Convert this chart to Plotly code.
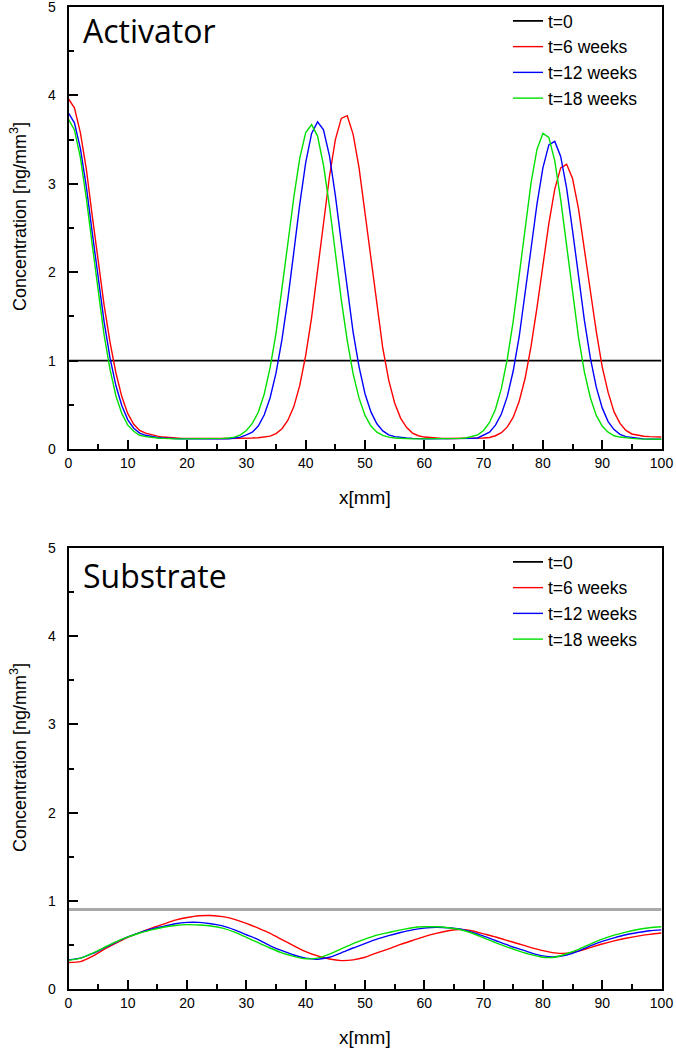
import plotly.graph_objects as go

# ---------------- data ----------------
SERIES_NAMES = ["t=0", "t=6 weeks", "t=12 weeks", "t=18 weeks"]
SERIES_COLORS = ["#000000", "#ff0000", "#0000ff", "#00e000"]

X_ACT = list(range(0, 101))
ACT_T0 = 1.0
ACT_T6 = [3.96, 3.86, 3.58, 3.17, 2.64, 2.12, 1.63, 1.21, 0.86, 0.59,
          0.40, 0.28, 0.21, 0.18, 0.16, 0.145, 0.135, 0.128, 0.123, 0.12,
          0.12, 0.118, 0.118, 0.118, 0.118, 0.118, 0.118, 0.118, 0.12, 0.12,
          0.122, 0.125, 0.128, 0.133, 0.145, 0.175, 0.23, 0.325, 0.48, 0.72,
          1.06, 1.49, 2.01, 2.56, 3.08, 3.50, 3.74, 3.77, 3.56, 3.18,
          2.67, 2.12, 1.59, 1.14, 0.78, 0.52, 0.35, 0.245, 0.18, 0.15,
          0.135, 0.128, 0.122, 0.12, 0.118, 0.118, 0.118, 0.118, 0.12, 0.122,
          0.125, 0.13, 0.15, 0.185, 0.25, 0.36, 0.54, 0.80, 1.16, 1.60,
          2.08, 2.55, 2.94, 3.18, 3.22, 3.06, 2.72, 2.28, 1.79, 1.33,
          0.93, 0.64, 0.42, 0.29, 0.21, 0.17, 0.155, 0.145, 0.14, 0.137,
          0.135]
ACT_T12 = [3.80, 3.69, 3.40, 2.97, 2.45, 1.93, 1.44, 1.03, 0.715, 0.49,
           0.33, 0.235, 0.18, 0.155, 0.14, 0.13, 0.125, 0.12, 0.118, 0.115,
           0.115, 0.115, 0.115, 0.115, 0.115, 0.115, 0.115, 0.115, 0.125, 0.135,
           0.16, 0.19, 0.26, 0.385, 0.58, 0.86, 1.24, 1.70, 2.23, 2.77,
           3.24, 3.57, 3.70, 3.61, 3.32, 2.87, 2.34, 1.81, 1.32, 0.93,
           0.625, 0.42, 0.285, 0.205, 0.16, 0.14, 0.13, 0.125, 0.12, 0.115,
           0.115, 0.115, 0.115, 0.115, 0.115, 0.115, 0.115, 0.115, 0.12, 0.125,
           0.155, 0.19, 0.27, 0.395, 0.595, 0.885, 1.27, 1.745, 2.265, 2.77,
           3.18, 3.44, 3.48, 3.31, 2.95, 2.47, 1.95, 1.455, 1.03, 0.70,
           0.465, 0.31, 0.22, 0.165, 0.14, 0.13, 0.12, 0.115, 0.112, 0.11,
           0.11]
ACT_T18 = [3.73, 3.61, 3.30, 2.84, 2.31, 1.77, 1.29, 0.90, 0.60, 0.40,
           0.27, 0.20, 0.155, 0.14, 0.13, 0.125, 0.12, 0.115, 0.115, 0.115,
           0.115, 0.115, 0.115, 0.115, 0.115, 0.115, 0.12, 0.125, 0.135, 0.16,
           0.21, 0.29, 0.415, 0.62, 0.92, 1.31, 1.79, 2.33, 2.85, 3.29,
           3.58, 3.67, 3.54, 3.21, 2.75, 2.22, 1.69, 1.23, 0.85, 0.575,
           0.38, 0.26, 0.19, 0.155, 0.135, 0.125, 0.12, 0.115, 0.115, 0.115,
           0.115, 0.115, 0.115, 0.115, 0.115, 0.115, 0.12, 0.125, 0.14, 0.16,
           0.21, 0.30, 0.45, 0.685, 1.02, 1.45, 1.965, 2.51, 3.01, 3.39,
           3.57, 3.525, 3.26, 2.82, 2.295, 1.755, 1.265, 0.87, 0.58, 0.38,
           0.26, 0.19, 0.15, 0.135, 0.125, 0.12, 0.115, 0.112, 0.11, 0.11,
           0.11]

X_SUB = list(range(0, 101, 2))
SUB_T0 = 0.9
SUB_T6 = [0.30, 0.31, 0.37, 0.45, 0.52, 0.585, 0.64, 0.69, 0.735, 0.78,
          0.81, 0.83, 0.833, 0.82, 0.79, 0.745, 0.69, 0.63, 0.56, 0.49,
          0.425, 0.375, 0.34, 0.322, 0.33, 0.36, 0.41, 0.455, 0.505, 0.55,
          0.594, 0.63, 0.66, 0.675, 0.66, 0.625, 0.59, 0.55, 0.51, 0.47,
          0.435, 0.41, 0.405, 0.43, 0.47, 0.51, 0.545, 0.575, 0.60, 0.62,
          0.635]
SUB_T12 = [0.33, 0.35, 0.40, 0.465, 0.53, 0.59, 0.64, 0.68, 0.71, 0.74,
           0.755, 0.755, 0.74, 0.715, 0.67, 0.615, 0.56, 0.49, 0.435, 0.385,
           0.35, 0.338, 0.36, 0.41, 0.465, 0.515, 0.565, 0.605, 0.64, 0.67,
           0.69, 0.70, 0.695, 0.68, 0.645, 0.60, 0.55, 0.50, 0.455, 0.41,
           0.375, 0.365, 0.385, 0.43, 0.49, 0.54, 0.58, 0.615, 0.64, 0.66,
           0.67]
SUB_T18 = [0.325, 0.35, 0.405, 0.47, 0.535, 0.59, 0.635, 0.67, 0.70, 0.72,
           0.73, 0.725, 0.715, 0.69, 0.645, 0.585, 0.525, 0.465, 0.41, 0.37,
           0.343, 0.35, 0.395, 0.455, 0.515, 0.565, 0.61, 0.64, 0.67, 0.695,
           0.705, 0.705, 0.695, 0.675, 0.635, 0.58, 0.525, 0.475, 0.43, 0.39,
           0.36, 0.36, 0.40, 0.45, 0.51, 0.565, 0.61, 0.645, 0.675, 0.695,
           0.705]

X_TICKS = [0, 10, 20, 30, 40, 50, 60, 70, 80, 90, 100]
Y_TICKS = [0, 1, 2, 3, 4, 5]
PANEL_TITLES = ["Activator", "Substrate"]
X_TITLE = "x[mm]"
Y_TITLE = "Concentration [ng/mm<sup>3</sup>]"

# ---------------- figure ----------------
W, H = 676, 1050
fig = go.Figure()

LW = 1.4
# top panel
fig.add_trace(go.Scatter(x=[X_ACT[0], X_ACT[-1]], y=[ACT_T0, ACT_T0], mode="lines",
                         name=SERIES_NAMES[0], line=dict(color=SERIES_COLORS[0], width=1.8),
                         xaxis="x", yaxis="y", legend="legend"))
for name, col, ys in zip(SERIES_NAMES[1:], SERIES_COLORS[1:], [ACT_T6, ACT_T12, ACT_T18]):
    fig.add_trace(go.Scatter(x=X_ACT, y=ys, mode="lines", name=name,
                             line=dict(color=col, width=LW),
                             xaxis="x", yaxis="y", legend="legend"))

# bottom panel
fig.add_trace(go.Scatter(x=[X_SUB[0], X_SUB[-1]], y=[SUB_T0, SUB_T0], mode="lines",
                         name=SERIES_NAMES[0], showlegend=False,
                         line=dict(color="#a8a8a8", width=3),
                         xaxis="x2", yaxis="y2"))
fig.add_trace(go.Scatter(x=[None], y=[None], mode="lines", name=SERIES_NAMES[0],
                         line=dict(color=SERIES_COLORS[0], width=1.8),
                         xaxis="x2", yaxis="y2", legend="legend2"))
for name, col, ys in zip(SERIES_NAMES[1:], SERIES_COLORS[1:], [SUB_T6, SUB_T12, SUB_T18]):
    fig.add_trace(go.Scatter(x=X_SUB, y=ys, mode="lines", name=name,
                             line=dict(color=col, width=LW, shape="spline", smoothing=0.6),
                             xaxis="x2", yaxis="y2", legend="legend2"))

def px_x(p):
    return p / W

def px_y(p):
    return 1 - p / H

TICKFONT = dict(family="Liberation Sans, Arial", size=14, color="#000")
axis_common = dict(showline=True, linewidth=2, linecolor="#000", mirror=True,
                   showgrid=False, zeroline=False, ticks="inside", ticklen=9,
                   tickwidth=2, tickcolor="#000", tickfont=TICKFONT, automargin=False,
                   ticklabeloverflow="allow")
LEGFONT = dict(family="Liberation Sans, Arial", size=17.5, color="#000")

xdom = [px_x(68.5), px_x(661.5)]
fig.update_layout(
    width=W, height=H,
    margin=dict(l=0, r=0, t=0, b=0, autoexpand=False),
    paper_bgcolor="white", plot_bgcolor="white",
    xaxis=dict(domain=xdom, anchor="y", range=[0, 100], tickvals=X_TICKS,
               minor=dict(dtick=5, ticks="inside", ticklen=5, tickwidth=2, tickcolor="#000"),
               ticklabelstandoff=0, **axis_common),
    yaxis=dict(domain=[px_y(449), px_y(7)], anchor="x", range=[0, 5], tickvals=Y_TICKS,
               minor=dict(dtick=0.5, ticks="inside", ticklen=5, tickwidth=2, tickcolor="#000"),
               ticklabelstandoff=8, **axis_common),
    xaxis2=dict(domain=xdom, anchor="y2", range=[0, 100], tickvals=X_TICKS,
                minor=dict(dtick=5, ticks="inside", ticklen=5, tickwidth=2, tickcolor="#000"),
                ticklabelstandoff=0, **axis_common),
    yaxis2=dict(domain=[px_y(989), px_y(548)], anchor="x2", range=[0, 5], tickvals=Y_TICKS,
                minor=dict(dtick=0.5, ticks="inside", ticklen=5, tickwidth=2, tickcolor="#000"),
                ticklabelstandoff=8, **axis_common),
    legend=dict(x=px_x(508), y=px_y(3), xanchor="left", yanchor="top",
                bgcolor="rgba(0,0,0,0)", borderwidth=0, font=LEGFONT, tracegroupgap=0),
    legend2=dict(x=px_x(508), y=px_y(544), xanchor="left", yanchor="top",
                 bgcolor="rgba(0,0,0,0)", borderwidth=0, font=LEGFONT, tracegroupgap=0),
    showlegend=True,
)

ann = []
for title, ycen in zip(PANEL_TITLES, [30, 575.5]):
    ann.append(dict(text=title, xref="paper", yref="paper", x=px_x(81), y=px_y(ycen),
                    xanchor="left", yanchor="middle", showarrow=False,
                    font=dict(family="Open Sans", size=32, color="#000")))
for ycen in [217, 758]:
    ann.append(dict(text=Y_TITLE, xref="paper", yref="paper", x=px_x(18), y=px_y(ycen),
                    xanchor="center", yanchor="middle", textangle=-90, showarrow=False,
                    font=dict(family="Liberation Sans, Arial", size=18, color="#000")))
for ycen in [497, 1037]:
    ann.append(dict(text=X_TITLE, xref="paper", yref="paper", x=px_x(365), y=px_y(ycen),
                    xanchor="center", yanchor="middle", showarrow=False,
                    font=dict(family="Liberation Sans, Arial", size=19, color="#000")))
fig.update_layout(annotations=ann)

fig.write_html("out.html", config={"displayModeBar": False},
               post_script="document.body.style.margin='0';document.body.style.padding='0';")
